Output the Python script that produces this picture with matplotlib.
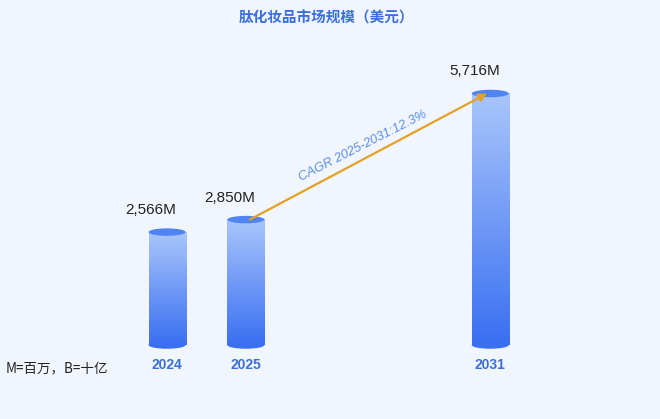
import matplotlib.pyplot as plt
import numpy as np
from matplotlib.patches import Ellipse
from matplotlib.colors import LinearSegmentedColormap

plt.rcParams['font.family'] = ['Liberation Sans', 'Noto Sans CJK SC', 'DejaVu Sans']

years = ['2024', '2025', '2031']
values = [2566, 2850, 5716]
value_labels = ['2,566M', '2,850M', '5,716M']
cagr_text = 'CAGR 2025-2031:12.3%'
title = '肽化妆品市场规模（美元）'
note = 'M=百万，B=十亿'

bg = '#f1f5fd'
blue_text = '#3a6fd6'
grad = LinearSegmentedColormap.from_list('bar', ['#3a6ff2', '#a9c6fb'])

xpos = [0, 1, 4.1]
bw = 0.47
eh = 170  # ellipse height in data units

fig = plt.figure(figsize=(6.6, 4.19), dpi=100, facecolor=bg)
ax = fig.add_axes([9.4 / 660, 74 / 419, 630.6 / 660, 308 / 419])
ax.set_facecolor(bg)

g = np.linspace(0, 1, 256).reshape(-1, 1)
for x, v, lab in zip(xpos, values, value_labels):
    # bottom cap
    ax.add_patch(Ellipse((x, 0), bw, eh, facecolor='#3a6ff2', edgecolor='none', zorder=1, clip_on=False))
    # body gradient
    ax.imshow(g, cmap=grad, origin='lower', aspect='auto', extent=(x - bw / 2, x + bw / 2, 0, v),
              zorder=2, interpolation='bicubic')
    # top cap
    ax.add_patch(Ellipse((x, v), bw, eh, facecolor='#4f84f2', edgecolor='none', zorder=3))
    ax.annotate(lab, (x, v), xytext=(-16, 22), textcoords='offset pixels', ha='center', va='center',
                fontsize=11, color='#222222')

ax.set_xlim(-2, 6)
ax.set_ylim(0, 7000)

# CAGR arrow
x0, y0 = xpos[1] + 0.05, values[1]
x1, y1 = xpos[2] - 0.04, values[2]
ax.annotate('', xy=(x1, y1), xytext=(x0, y0),
            arrowprops=dict(arrowstyle='-|>', color='#e3a126', lw=1.6, mutation_scale=12,
                            shrinkA=0, shrinkB=0), zorder=4)
ax.annotate(cagr_text, ((x0 + x1) / 2, (y0 + y1) / 2), xytext=(-5, 10), textcoords='offset pixels',
            ha='center', va='center', rotation=27, fontsize=9.3, style='italic', color='#5b8ee6',
            rotation_mode='anchor')

ax.set_xticks(xpos)
ax.set_xticklabels(years, fontsize=10, fontweight='bold', color=blue_text)
ax.tick_params(axis='x', length=0, pad=9)
ax.set_yticks([])
for s in ax.spines.values():
    s.set_visible(False)

fig.text(0.495, 0.957, title, ha='center', va='center', fontsize=10.5, fontweight='bold',
         color='#3a6fe0', family=['Noto Sans CJK SC', 'DejaVu Sans'])
fig.text(0.008, 0.12, note, ha='left', va='center', fontsize=9.7, color='#222222',
         family=['Noto Sans CJK SC', 'DejaVu Sans'])

fig.savefig('out.png', dpi=100, facecolor=bg)
